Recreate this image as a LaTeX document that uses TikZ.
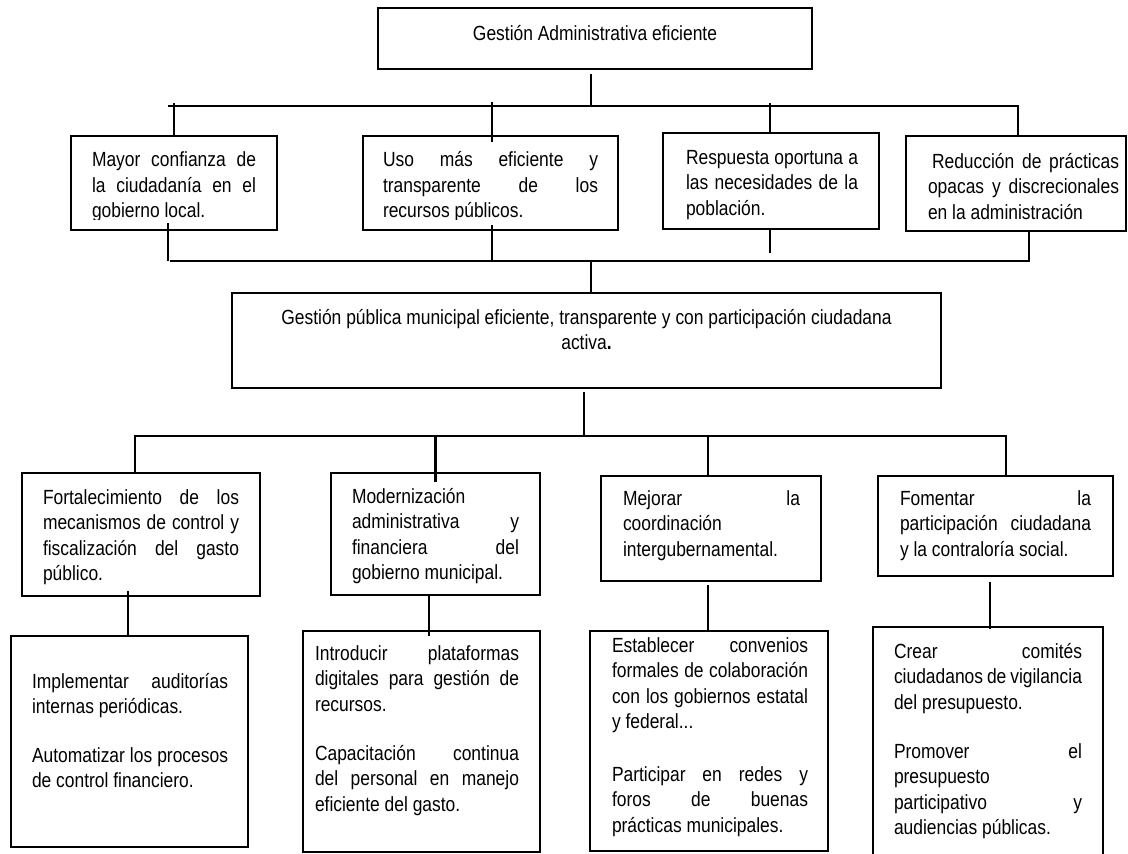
\documentclass[tikz,border=0pt]{standalone}
\usepackage{fontspec}
\setmainfont{Liberation Sans}[FakeStretch=0.85]
\usetikzlibrary{calc}
\newcommand{\J}[1]{\makebox[\linewidth][s]{#1}}
\begin{document}
\begin{tikzpicture}[x=1pt,y=-1pt,
  box/.style={draw=black, line width=2.6pt, rectangle, inner sep=0pt, outer sep=0pt, anchor=north west},
  txt/.style={inner sep=0pt, outer sep=0pt, anchor=base west, font=\fontsize{20.5}{25.5}\selectfont},
  conn/.style={draw=black, line width=2.6pt}]
\useasboundingbox (0,0) rectangle (1128,854);
\clip (0,0) rectangle (1128,854);

% boxes
\node[box, minimum width=434pt, minimum height=61pt] (top) at (378,8) {};
\node[box, minimum width=206pt, minimum height=94pt] (b1) at (71,136) {};
\node[box, minimum width=255pt, minimum height=94pt] (b2) at (363,136) {};
\node[box, minimum width=216pt, minimum height=96pt] (b3) at (663,133) {};
\node[box, minimum width=220pt, minimum height=95pt] (b4) at (906,136) {};
\node[box, minimum width=709pt, minimum height=95pt] (mid) at (232,293) {};
\node[box, minimum width=238pt, minimum height=123pt] (b5) at (22,473) {};
\node[box, minimum width=209pt, minimum height=122pt] (b6) at (331,473) {};
\node[box, minimum width=220pt, minimum height=105pt] (b7) at (601,476) {};
\node[box, minimum width=235pt, minimum height=100pt] (b8) at (878,476) {};
\node[box, minimum width=237pt, minimum height=211pt] (b9) at (11,636) {};
\node[box, minimum width=237pt, minimum height=221pt] (b10) at (303,631) {};
\node[box, minimum width=238pt, minimum height=220pt] (b11) at (590,631) {};
\node[box, minimum width=230pt, minimum height=245pt] (b12) at (873,627) {};

% texts
\node[txt, anchor=base] (t0) at (595,40) {Gestión Administrativa eficiente};
\node[txt, anchor=base] (tm) at (586.5,324) {\parbox[t]{700pt}{\centering Gestión pública municipal eficiente, transparente y con participación ciudadana\\ activa\textbf{.}}};
\begin{scope}
\clip (0,0) rectangle (1128,219);
\node[txt] (t1) at (92,166.5) {\parbox[t]{164pt}{\J{Mayor confianza de}\\\J{la ciudadanía en el}\\gobierno local.}};
\node[txt] (t2) at (383,166.5) {\parbox[t]{215pt}{\J{Uso más eficiente y}\\\J{transparente de los}\\recursos públicos.}};
\end{scope}
\node[txt] (t3) at (686,164) {\parbox[t]{172pt}{\J{Respuesta oportuna a}\\\J{las necesidades de la}\\población.}};
\node[txt] (t4) at (928,168) {\parbox[t]{191pt}{\hspace*{4pt}\makebox[187pt][s]{Reducción de prácticas}\\\J{opacas y discrecionales}\\en la administración}};
\node[txt] (t5) at (43,504) {\parbox[t]{196pt}{\J{Fortalecimiento de los}\\\J{mecanismos de control y}\\\J{fiscalización del gasto}\\público.}};
\node[txt] (t6) at (352,503) {\parbox[t]{167pt}{Modernización\\\J{administrativa y}\\\J{financiera del}\\gobierno municipal.}};
\node[txt] (t7) at (623,505) {\parbox[t]{177pt}{\J{Mejorar la}\\coordinación\\intergubernamental.}};
\node[txt] (t8) at (900,505) {\parbox[t]{191pt}{\J{Fomentar la}\\\J{participación ciudadana}\\y la contraloría social.}};
\node[txt] (t9) at (32,688) {\parbox[t]{196pt}{\J{Implementar auditorías}\\internas periódicas.\\[23pt]\J{Automatizar los procesos}\\de control financiero.}};
\node[txt] (t10) at (315,660) {\parbox[t]{204pt}{\J{Introducir plataformas}\\\J{digitales para gestión de}\\recursos.\\[23.5pt]\J{Capacitación continua}\\\J{del personal en manejo}\\eficiente del gasto.}};
\node[txt] (t11) at (612,652) {\parbox[t]{196pt}{\J{Establecer convenios}\\\J{formales de colaboración}\\\J{con los gobiernos estatal}\\y federal...\\[27pt]\J{Participar en redes y}\\\J{foros de buenas}\\prácticas municipales.}};
\node[txt] (t12) at (894,658) {\parbox[t]{188pt}{\J{Crear comités}\\\J{ciudadanos de vigilancia}\\del presupuesto.\\[23.5pt]\J{Promover el}\\presupuesto\\\J{participativo y}\\audiencias públicas.}};

% upper bus
\coordinate (uL) at (168,106);
\coordinate (uR) at (1018,106);
\coordinate (ts) at ($(top.south)+(-4,5)$);
\draw[conn] (ts) -- (ts |- uL);
\draw[conn] (uL) -- (uR) -- (uR |- b4.north);
\draw[conn] ($(b1.north)+(0,-33)$) -- (b1.north);
\draw[conn] ($(b2.north)+(1.5,-34)$) -- ($(b2.north)+(1.5,6)$);
\draw[conn] ($(b3.north)+(-1,-30)$) -- ($(b3.north)+(-1,0)$);

% lower bus of first row
\coordinate (mL) at (170,261);
\coordinate (mR) at (1029,261);
\draw[conn] (mL) -- (mR) -- (mR |- b4.south);
\draw[conn] ($(b1.south)+(-6,-7)$) -- ($(b1.south)+(-6,31)$);
\draw[conn] ($(b2.south)+(1.5,-5)$) -- ($(b2.south)+(1.5,31)$);
\draw[conn] ($(b3.south)+(-1,0)$) -- ($(b3.south)+(-1,24)$);
\draw[conn] ($(mid.north)+(4.5,-32)$) -- ($(mid.north)+(4.5,0)$);

% second bus
\coordinate (lL) at (135,436);
\coordinate (lR) at (1006,436);
\draw[conn] ($(mid.south)+(-2.5,4)$) -- ($(mid.south)+(-2.5,48)$);
\draw[conn] (lL |- b5.north) -- (lL) -- (lR) -- (lR |- b8.north);
\draw[conn] (b6.north |- lL) -- ($(b6.north)+(0,9)$);
\draw[conn] ($(b7.north)+(-3,-40)$) -- ($(b7.north)+(-3,0)$);

% lower stubs
\draw[conn] ($(b9.north)+(-1.5,-45)$) -- ($(b9.north)+(-1.5,0)$);
\draw[conn] ($(b6.south)+(-6.5,0)$) -- ($(b6.south)+(-6.5,41)$);
\draw[conn] ($(b7.south)+(-3,4)$) -- ($(b11.north)+(-1,0)$);
\draw[conn] ($(b8.south)+(-5.5,6)$) -- ($(b8.south)+(-5.5,53)$);
\end{tikzpicture}
\end{document}
